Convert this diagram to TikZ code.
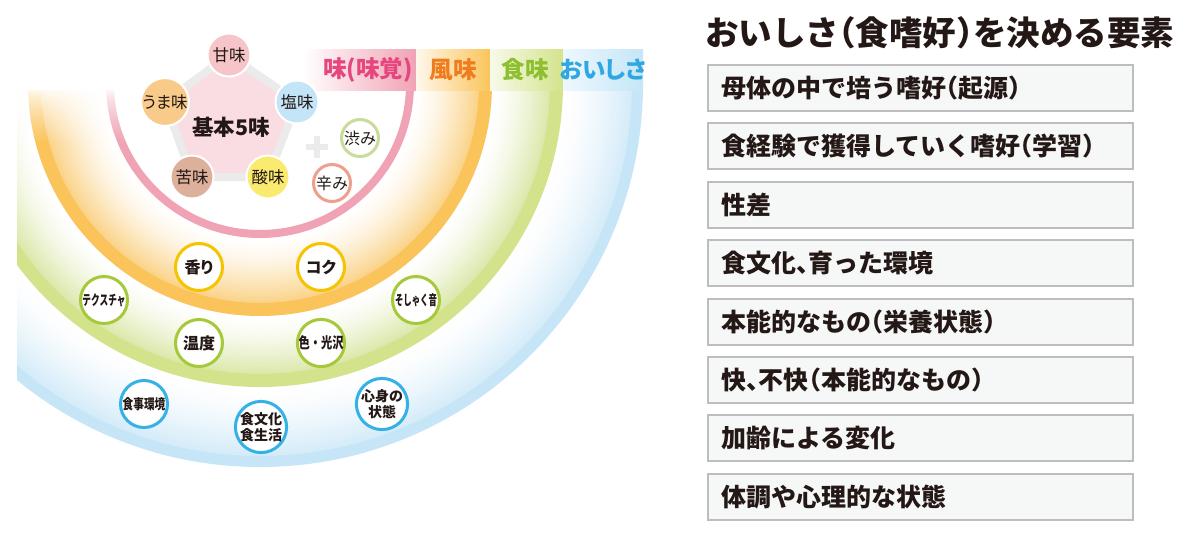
\documentclass[tikz,border=0pt]{standalone}
\usepackage{fontspec}
\usepackage{graphicx}
\setmainfont{Noto Sans CJK JP}
\newfontfamily\pfont{Noto Sans CJK JP}[RawFeature=+palt]
\newfontfamily\hfont{Noto Sans CJK JP}[RawFeature=+halt]
\newcommand\lpar{{\hfont （}}
\newcommand\rpar{{\hfont ）}}
\newcommand\tten{{\hfont 、}}

\definecolor{ink}{HTML}{231815}
\definecolor{pinkband}{HTML}{F0A3B4}
\definecolor{orgband}{HTML}{FAC45A}
\definecolor{grnband}{HTML}{D3E38C}
\definecolor{bluband}{HTML}{C6E6F8}
\definecolor{orgline}{HTML}{F8BE50}
\definecolor{grnline}{HTML}{C6DA78}
\definecolor{bluline}{HTML}{A6D6F2}
\definecolor{pinktxt}{HTML}{E6457E}
\definecolor{orgtxt}{HTML}{EF7D1F}
\definecolor{grntxt}{HTML}{8DBF2E}
\definecolor{blutxt}{HTML}{2FA8E1}
\definecolor{boxfill}{HTML}{F6F7F7}
\definecolor{boxline}{HTML}{BDBDBD}
\definecolor{pentfill}{HTML}{FADDE3}
\definecolor{pentline}{HTML}{EBEBEB}
\definecolor{amami}{HTML}{F6C5C9}
\definecolor{umami}{HTML}{F9CB8A}
\definecolor{shio}{HTML}{C4E5F8}
\definecolor{niga}{HTML}{DDB09B}
\definecolor{san}{HTML}{FBEA70}
\definecolor{shibu}{HTML}{C9DC9C}
\definecolor{kara}{HTML}{EFA08C}
\definecolor{yelring}{HTML}{F6C300}
\definecolor{grnring}{HTML}{A6C93A}
\definecolor{bluring}{HTML}{35B1E6}

% smooth ring gradient: inner radius, outer radius, colour, max percent
\newcommand\ringgrad[4]{%
  \pgfmathtruncatemacro\nn{(#2-#1)/2}%
  \foreach \i in {0,...,\nn}{%
    \pgfmathsetmacro\tval{\i/\nn}%
    \pgfmathsetmacro\rrad{#1+(#2-#1)*\tval}%
    \pgfmathtruncatemacro\pc{#4*\tval^1.5}%
    \draw[#3!\pc!white, line width=2.6pt] (C) circle[radius=\rrad pt];
  }}

\tikzset{
  taste/.style={circle, minimum size=43pt, inner sep=0pt, draw=white, line width=2pt,
    text=ink, font=\fontsize{16.5}{16.5}\selectfont},
  ring/.style={circle, minimum size=47pt, inner sep=0pt, fill=white, line width=3pt,
    text=ink, font=\bfseries\fontsize{14}{16}\selectfont, align=center},
  smallring/.style={ring, minimum size=37pt, font=\fontsize{16}{16}\selectfont},
  lab/.style={inner sep=0pt, font=\bfseries\pfont\fontsize{23.5}{23.5}\selectfont},
  rbox/.style={draw=boxline, fill=boxfill, line width=1.5pt, anchor=north west,
    minimum height=46pt, minimum width=425pt, inner sep=0pt},
  rtext/.style={anchor=west, inner sep=0pt, text=ink, font=\bfseries\fontsize{25}{25}\selectfont},
}

\begin{document}
\begin{tikzpicture}[x=1pt,y=-1pt]
\useasboundingbox (0,0) rectangle (1200,544);
\fill[white] (0,0) rectangle (1200,544);
\coordinate (C) at (260,84);

% concentric rings
\begin{scope}
  \clip (17,90) rectangle (700,544);
  \ringgrad{154}{220}{orgline}{70}
  \ringgrad{232}{291}{grnline}{65}
  \ringgrad{303}{373}{bluline}{50}
  \draw[pinkband, line width=8pt] (C) circle[radius=150pt];
  \draw[orgband, line width=13pt] (C) circle[radius=225.5pt];
  \draw[grnband, line width=13pt] (C) circle[radius=296.5pt];
  \draw[bluband, line width=11pt] (C) circle[radius=377.5pt];
\end{scope}
% fade of the rings towards the top left
\foreach \k in {0,...,54}{%
  \pgfmathsetmacro\op{1-(\k/55)^0.7}%
  \fill[white, opacity=\op] (17,{88+\k}) rectangle (306,{89+\k});
}

% label row
\shade[left color=white, right color=pinkband] (303,49) rectangle (416,90);
\shade[left color=orgband!12, right color=orgband] (416,49) rectangle (490,90);
\shade[left color=grnband!18, right color=grnband] (490,49) rectangle (563,90);
\shade[left color=bluband!30, right color=bluband] (563,49) rectangle (643,90);
\node[lab, text=pinktxt] (lmikaku) at (368,70) {味(味覚)};
\node[lab, text=orgtxt] (lfumi) at (453,70) {風味};
\node[lab, text=grntxt] (lshokumi) at (525,70) {食味};
\node[lab, text=blutxt] (loishisa) at (603,70) {おいしさ};

% pentagon
\coordinate (P1) at (229,55);
\coordinate (P2) at (297,102);
\coordinate (P3) at (268,177);
\coordinate (P4) at (192,177);
\coordinate (P5) at (165,102);
\filldraw[fill=pentfill, draw=pentline, line width=8pt, line join=round]
  (P1) -- (P2) -- (P3) -- (P4) -- (P5) -- cycle;
\node[font=\bfseries\fontsize{21.5}{21.5}\selectfont, text=ink, inner sep=0pt] (kihon) at (231,127) {基本5味};
\node[taste, fill=amami] (amami) at (P1) {甘味};
\node[taste, fill=shio] (shio) at (P2) {塩味};
\node[taste, fill=san] (san) at (P3) {酸味};
\node[taste, fill=niga] (niga) at (P4) {苦味};
\node[taste, fill=umami] (umami) at (P5) {\pfont うま味};

% plus
\draw[pentline, line width=6pt] (306,147) -- (328,147) (317,136) -- (317,158);
\node[smallring, draw=shibu] (shibumi) at (360,138) {渋み};
\node[smallring, draw=kara] (karami) at (332,183) {辛み};

% flavor circles
\node[ring, draw=yelring, font=\bfseries\pfont\fontsize{16}{16}\selectfont] (kaori) at (199,267) {香り};
\node[ring, draw=yelring, font=\bfseries\pfont\fontsize{16}{16}\selectfont] (koku) at (321,267) {コク};

% texture circles
\node[ring, draw=grnring] (texture) at (104,300) {\scalebox{0.62}[1]{テクスチャ}};
\node[ring, draw=grnring] (soshaku) at (416,300) {\scalebox{0.6}[1]{そしゃく音}};
\node[ring, draw=grnring, font=\bfseries\fontsize{16}{16}\selectfont] (ondo) at (199,343) {温度};
\node[ring, draw=grnring] (iro) at (321,343) {\scalebox{0.75}[1]{\fontsize{15}{15}\selectfont 色・光沢}};

% oishisa circles
\node[ring, draw=bluring] (shokuji) at (144,404) {\scalebox{0.76}[1]{食事環境}};
\node[ring, draw=bluring] (shokubunka) at (261,427) {食文化\\食生活};
\node[ring, draw=bluring] (shinshin) at (382,404) {心身の\\状態};

% right side
\node[anchor=west, inner sep=0pt, text=ink, font=\bfseries\fontsize{33.5}{33.5}\selectfont] (title) at (705,33) {おいしさ\lpar 食嗜好\rpar を決める要素};

\node[rbox] (b1) at (707,64) {};
\node[rbox] (b2) at (707,122) {};
\node[rbox] (b3) at (707,181) {};
\node[rbox] (b4) at (707,239) {};
\node[rbox] (b5) at (707,298) {};
\node[rbox] (b6) at (707,356) {};
\node[rbox] (b7) at (707,414) {};
\node[rbox] (b8) at (707,473) {};
\node[rtext] (t1) at ([xshift=14pt]b1.west) {母体の中で培う嗜好\lpar 起源\rpar};
\node[rtext] (t2) at ([xshift=14pt]b2.west) {食経験で獲得していく嗜好\lpar 学習\rpar};
\node[rtext] (t3) at ([xshift=14pt]b3.west) {性差};
\node[rtext] (t4) at ([xshift=14pt]b4.west) {食文化\tten 育った環境};
\node[rtext] (t5) at ([xshift=14pt]b5.west) {本能的なもの\lpar 栄養状態\rpar};
\node[rtext] (t6) at ([xshift=14pt]b6.west) {快\tten 不快\lpar 本能的なもの\rpar};
\node[rtext] (t7) at ([xshift=14pt]b7.west) {加齢による変化};
\node[rtext] (t8) at ([xshift=14pt]b8.west) {体調や心理的な状態};
\end{tikzpicture}
\end{document}
